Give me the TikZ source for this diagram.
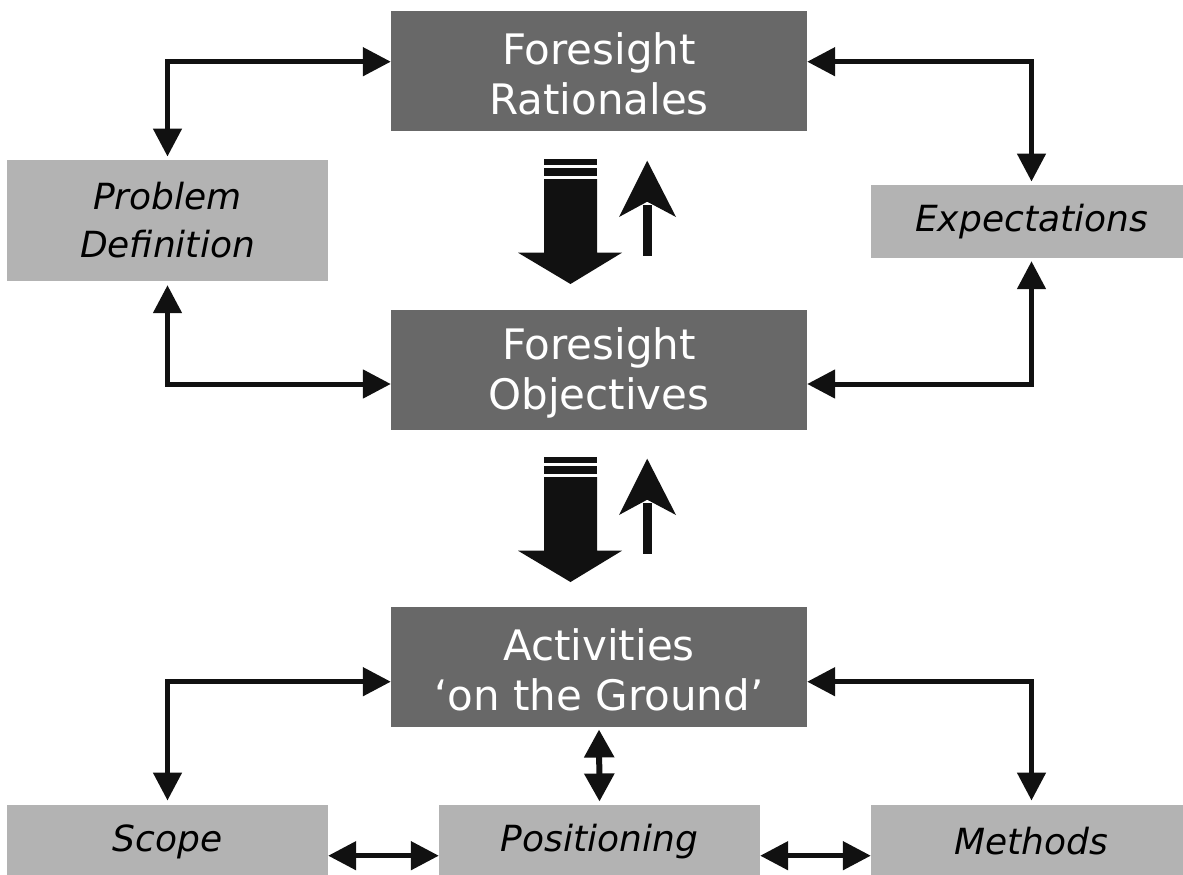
\documentclass[tikz,border=0pt]{standalone}
\usepackage{fontspec}
\setmainfont{DejaVu Sans}
\usetikzlibrary{arrows.meta}
\definecolor{darkfill}{HTML}{686868}
\definecolor{lightfill}{HTML}{B3B3B3}
\definecolor{ink}{HTML}{111111}
\newcommand{\toplift}{\rule{0pt}{38pt}}
\begin{document}
\begin{tikzpicture}[x=1pt,y=-1pt,
  mainbox/.style={fill=darkfill, text=white, minimum width=416pt, minimum height=120pt,
    inner sep=0pt, align=center, font=\fontsize{42}{50}\selectfont},
  sidebox/.style={fill=lightfill, text=black, minimum width=321pt, minimum height=73pt,
    inner sep=0pt, align=center, font=\itshape\fontsize{36}{48}\selectfont},
  conn/.style={draw=ink, line width=5pt,
    {Triangle[length=28pt,width=28pt]}-{Triangle[length=28pt,width=28pt]}},
  shortconn/.style={draw=ink, line width=6pt,
    {Triangle[length=28pt,width=29pt]}-{Triangle[length=28pt,width=29pt]}},
  flowpair/.pic={
    \fill[ink] (544,159.3) rectangle (597,165);
    \fill[ink] (544,167.7) rectangle (597,176);
    \fill[ink] (544,179) -- (597,179) -- (597,252.7) -- (622,252.7) -- (570.5,284)
      -- (518,252.7) -- (544,252.7) -- cycle;
    \fill[ink] (643,256) rectangle (651.5,205);
    \fill[ink] (647.2,160.7) -- (676,217) -- (647.2,201.7) -- (619,217) -- cycle;
  }]
\useasboundingbox (0,0) rectangle (1183,875);
\fill[white] (0,0) rectangle (1183,875);

% main boxes
\node[mainbox] (rat) at (599,71) {\toplift Foresight\\Rationales};
\node[mainbox] (obj) at (599,369.5) {\toplift Foresight\\Objectives};
\node[mainbox] (act) at (599,666.5) {\toplift Activities\\‘on the Ground’};

% side boxes
\node[sidebox, minimum height=121pt] (prob) at (167.5,220.5) {Problem\\Definition};
\node[sidebox] (expe) at (1031.5,221.5) {Expectations};
\node[sidebox] (scope) at (167.5,841.5) {Scope};
\node[sidebox] (posi) at (599.5,841.5) {Positioning};
\node[sidebox] (meth) at (1031.5,841.5) {Methods};

% block arrows between main boxes
\pic (pairA) at (0,0) {flowpair};
\pic (pairB) at (0,298) {flowpair};

% connectors
\draw[conn] ([yshift=9.3pt]rat.west) -| ([yshift=3.3pt]prob.north);
\draw[conn] ([yshift=-4pt]prob.south) |- ([yshift=-14.5pt]obj.west);
\draw[conn] ([yshift=9.3pt]rat.east) -| ([yshift=3.3pt]expe.north);
\draw[conn] ([yshift=-3pt]expe.south) |- ([yshift=-14.5pt]obj.east);
\draw[conn] ([yshift=-15.2pt]act.west) -| ([yshift=4.3pt]scope.north);
\draw[conn] ([yshift=-15.2pt]act.east) -| ([yshift=4.3pt]meth.north);
\draw[shortconn] ([yshift=-2.8pt]act.south) -- ([yshift=3.3pt]posi.north);
\draw[conn] ([yshift=-14.2pt]scope.east) -- ([yshift=-14.2pt]posi.west);
\draw[conn] ([yshift=-14.2pt]posi.east) -- ([yshift=-14.2pt]meth.west);
\end{tikzpicture}
\end{document}
